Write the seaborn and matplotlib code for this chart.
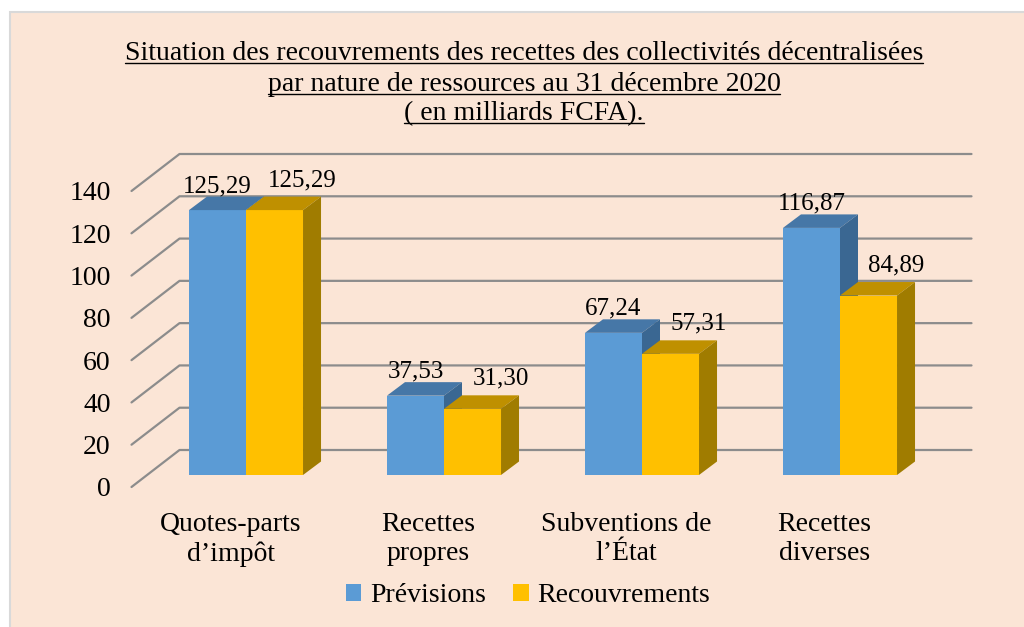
import numpy as np
import pandas as pd
import matplotlib
matplotlib.use("Agg")
import matplotlib.pyplot as plt
import matplotlib.transforms as mtransforms
from matplotlib.patches import Polygon, Rectangle
import seaborn as sns

# data
categories = ["Quotes-parts\nd’impôt", "Recettes\npropres", "Subventions de\nl’État", "Recettes\ndiverses"]
series = ["Prévisions", "Recouvrements"]
previsions = [125.29, 37.53, 67.24, 116.87]
recouvrements = [125.29, 31.30, 57.31, 84.89]
yticks = [0, 20, 40, 60, 80, 100, 120, 140]
title_lines = ["Situation des recouvrements des recettes des collectivités décentralisées",
               "par nature de ressources au 31 décembre 2020",
               "( en milliards FCFA)."]

df = pd.DataFrame({
    "cat": categories * 2,
    "val": previsions + recouvrements,
    "serie": [series[0]] * 4 + [series[1]] * 4,
})

# colours (front, top, side)
front = ["#5B9BD5", "#FFC000"]
top = ["#4677A7", "#BF9000"]
side = ["#3A6792", "#A07C00"]
bg = "#FBE5D6"
gridc = "#8C8C8C"

sns.set_style("white")
plt.rcParams["font.family"] = ["Liberation Serif", "DejaVu Serif"]
plt.rcParams["text.color"] = "black"
plt.rcParams["xtick.color"] = "black"
plt.rcParams["ytick.color"] = "black"
plt.rcParams["axes.labelcolor"] = "black"

W, H = 1024, 627
fig = plt.figure(figsize=(W / 100, H / 100), dpi=100, facecolor="white")
fig.patches.append(Rectangle((10 / W, -0.1), 1.2, 615 / H + 0.1, transform=fig.transFigure,
                             facecolor=bg, edgecolor="#D9D9D9", linewidth=1.5, zorder=-5))

# axes = front plane of the 3D box
ax = fig.add_axes([131.5 / W, 140 / H, 792 / W, 296 / H])
ax.patch.set_visible(False)

sns.barplot(data=df, x="cat", y="val", hue="serie", palette=front, width=0.576,
            saturation=1, linewidth=0, ax=ax, zorder=2)

ax.set_xlim(-0.5, 3.5)
ax.set_ylim(0, 140)
ax.set_yticks(yticks)
ax.set_xlabel("")
ax.set_ylabel("")
sns.despine(ax=ax, left=True, bottom=True)
ax.tick_params(axis="y", length=0, pad=15, labelsize=20, labelcolor="black")
ax.tick_params(axis="x", length=0, pad=18, labelsize=20, labelcolor="black")
for lab in ax.get_xticklabels():
    lab.set_linespacing(1.22)

# depth offsets in pixels
bar_off = (15.5, 12.0)     # front face of bars relative to front plane
bar_depth = (18.0, 13.5)
wall_off = (48.0, 37.0)    # back wall relative to front plane

bar_tr = mtransforms.offset_copy(ax.transData, fig=fig, x=bar_off[0], y=bar_off[1], units="dots")
wall_tr = mtransforms.offset_copy(ax.transData, fig=fig, x=wall_off[0], y=wall_off[1], units="dots")

# gridlines: diagonal on left wall + horizontal on back wall
x0, x1 = ax.get_xlim()
for t in yticks:
    p_front = ax.transData.transform((x0, t))
    p_back = wall_tr.transform((x0, t))
    p_end = wall_tr.transform((x1, t))
    ax.add_line(plt.Line2D([p_front[0], p_back[0], p_end[0]], [p_front[1], p_back[1], p_end[1]],
                           transform=None, color=gridc, lw=1.6, zorder=1, clip_on=False))

# 3D bars
for s, cont in enumerate(ax.containers):
    for i, p in enumerate(cont.patches):
        p.set_transform(bar_tr)
        p.set_clip_on(False)
        p.set_zorder(2 + s * 0.5 + i)
        bx, bw, bh = p.get_x(), p.get_width(), p.get_height()
        (ax0, ay0) = bar_tr.transform((bx, 0))
        (ax1, ay1) = bar_tr.transform((bx + bw, bh))
        dx, dy = bar_depth
        topf = Polygon([(ax0, ay1), (ax1, ay1), (ax1 + dx, ay1 + dy), (ax0 + dx, ay1 + dy)],
                       closed=True, transform=None, facecolor=top[s], edgecolor="none",
                       zorder=2.1 + s * 0.5 + i, clip_on=False)
        sidef = Polygon([(ax1, ay0), (ax1 + dx, ay0 + dy), (ax1 + dx, ay1 + dy), (ax1, ay1)],
                        closed=True, transform=None, facecolor=side[s], edgecolor="none",
                        zorder=2.1 + s * 0.5 + i, clip_on=False)
        ax.add_patch(topf)
        ax.add_patch(sidef)
        # value label
        off = (0, 24) if s == 0 else (28, 30)
        ax.annotate(f"{bh:.2f}".replace(".", ","), xy=(bx + bw / 2, bh), xycoords=bar_tr,
                    xytext=off, textcoords="offset pixels", ha="center", va="center",
                    fontsize=18, color="black", zorder=10, annotation_clip=False)

# legend
sns.move_legend(ax, "center", bbox_to_anchor=(528 / W, 31 / H), bbox_transform=fig.transFigure,
                ncol=2, frameon=False, title=None, fontsize=20, handlelength=0.55,
                handleheight=0.55, handletextpad=0.3, columnspacing=1.0)
for txt in ax.get_legend().get_texts():
    txt.set_color("black")

# title with underline
fig.canvas.draw()
renderer = fig.canvas.get_renderer()
baselines = [60, 91, 120]
for line, yb in zip(title_lines, baselines):
    t = fig.text(524 / W, 1 - yb / H, line, ha="center", va="baseline", fontsize=20)
    bb = t.get_window_extent(renderer)
    yl = H - yb - 2.5
    fig.add_artist(plt.Line2D([bb.x0, bb.x1], [yl, yl], transform=None, color="black", lw=1.0))

fig.savefig("out.png", dpi=100, facecolor=fig.get_facecolor())
